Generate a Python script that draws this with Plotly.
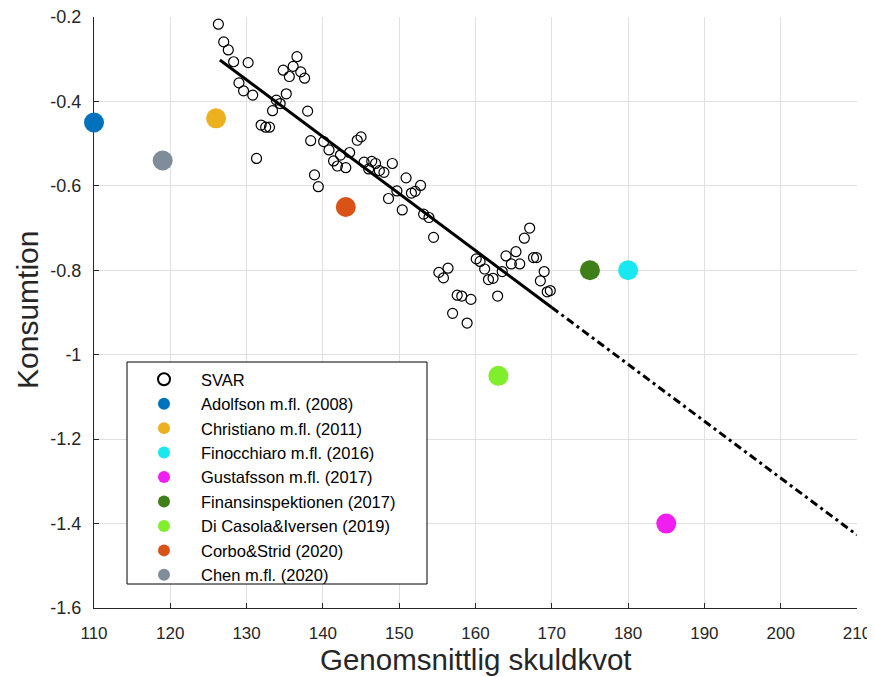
import plotly.graph_objects as go

# SVAR estimates (skuldkvot, konsumtion)
svar_x = [126.3, 127.0, 127.6, 128.3, 130.2, 129.0, 129.6, 130.8, 136.6, 134.8,
          136.1, 137.1, 135.6, 137.6, 135.2, 133.9, 134.4, 133.4, 138.0, 131.9,
          132.5, 133.0, 131.3, 138.4, 140.1, 140.8, 141.4, 141.9, 143.0, 142.3,
          143.5, 144.5, 145.0, 138.9, 139.4, 145.4, 146.4, 146.9, 146.0, 147.4,
          148.0, 149.1, 150.9, 152.8, 152.1, 151.6, 149.7, 148.6, 150.4, 153.2,
          153.9, 154.5, 155.2, 155.8, 156.4, 160.1, 160.6, 161.2, 161.7, 162.3,
          157.6, 158.2, 159.4, 157.0, 158.9, 162.9, 164.0, 165.3, 164.7, 165.8,
          167.1, 166.4, 167.6, 168.0, 169.0, 168.5, 169.4, 169.8, 163.5]
svar_y = [-0.217, -0.259, -0.278, -0.306, -0.308, -0.356, -0.375, -0.385, -0.294, -0.326,
          -0.317, -0.330, -0.341, -0.345, -0.382, -0.397, -0.405, -0.422, -0.423, -0.456,
          -0.461, -0.461, -0.535, -0.493, -0.495, -0.515, -0.541, -0.553, -0.557, -0.527,
          -0.521, -0.492, -0.484, -0.574, -0.602, -0.544, -0.542, -0.547, -0.560, -0.564,
          -0.568, -0.547, -0.581, -0.599, -0.613, -0.617, -0.612, -0.630, -0.657, -0.667,
          -0.675, -0.722, -0.805, -0.818, -0.795, -0.773, -0.779, -0.797, -0.822, -0.819,
          -0.859, -0.861, -0.869, -0.902, -0.925, -0.861, -0.766, -0.756, -0.785, -0.785,
          -0.700, -0.724, -0.770, -0.770, -0.803, -0.825, -0.851, -0.848, -0.803]

# Fitted line (solid in-sample, dash-dot extrapolation)
fit_x = [126.5, 170.0]
fit_y = [-0.302, -0.888]
ext_x = [170.0, 210.0]
ext_y = [-0.888, -1.427]

# Studies
study_names = ["Adolfson m.fl. (2008)", "Christiano m.fl. (2011)", "Finocchiaro m.fl. (2016)",
               "Gustafsson m.fl. (2017)", "Finansinspektionen (2017)", "Di Casola&Iversen (2019)",
               "Corbo&Strid (2020)", "Chen m.fl. (2020)"]
study_x = [110, 126, 180, 185, 175, 163, 143, 119]
study_y = [-0.45, -0.44, -0.80, -1.40, -0.80, -1.05, -0.65, -0.54]
study_colors = ["#0072BD", "#EDB120", "#1AE8F0", "#F01EF0", "#3F7F1A", "#80EE2A",
                "#D95319", "#7F8C99"]

x_ticks = [110, 120, 130, 140, 150, 160, 170, 180, 190, 200, 210]
y_ticks = [-1.6, -1.4, -1.2, -1.0, -0.8, -0.6, -0.4, -0.2]
y_ticktext = ["-1.6", "-1.4", "-1.2", "-1", "-0.8", "-0.6", "-0.4", "-0.2"]

x_title = "Genomsnittlig skuldkvot"
y_title = "Konsumtion"

FONT = "Liberation Sans, Arial, Helvetica, sans-serif"
TXT = "#262626"

# page body adds an 8px offset; figure is sized so the plot area lands where the reference has it
W, H = 867, 669
ML, MR, MT, MB = 86, 18, 9, 69
PW, PH = W - ML - MR, H - MT - MB


def px_x(p):  # screen px -> paper x
    return (p - 8 - ML) / PW


def px_y(p):  # screen px -> paper y
    return 1 - (p - 8 - MT) / PH


fig = go.Figure()
fig.add_trace(go.Scatter(
    x=svar_x, y=svar_y, mode="markers", name="SVAR",
    marker=dict(symbol="circle-open", size=10, color="black", line=dict(width=1.2, color="black")),
))
fig.add_trace(go.Scatter(x=fit_x, y=fit_y, mode="lines", showlegend=False,
                         line=dict(color="black", width=3)))
fig.add_trace(go.Scatter(x=ext_x, y=ext_y, mode="lines", showlegend=False,
                         line=dict(color="black", width=3, dash="8px,4px,3px,4px")))
for n, xv, yv, c in zip(study_names, study_x, study_y, study_colors):
    fig.add_trace(go.Scatter(x=[xv], y=[yv], mode="markers", name=n, cliponaxis=False,
                             marker=dict(size=20, color=c)))

# legend frame
fig.add_shape(type="rect", xref="paper", yref="paper", layer="above",
              x0=px_x(127), x1=px_x(427), y0=px_y(584), y1=px_y(362),
              fillcolor="white", line=dict(color="black", width=1))

fig.add_annotation(text=x_title, xref="paper", yref="paper", x=0.5, y=px_y(660),
                   xanchor="center", yanchor="middle", showarrow=False,
                   font=dict(size=29.5, color=TXT, family=FONT))
fig.add_annotation(text=y_title, xref="paper", yref="paper", x=px_x(27), y=px_y(310),
                   xanchor="center", yanchor="middle", showarrow=False, textangle=-90,
                   font=dict(size=30, color=TXT, family=FONT))

fig.update_layout(
    width=W, height=H,
    margin=dict(l=ML, r=MR, t=MT, b=MB),
    paper_bgcolor="white", plot_bgcolor="white",
    font=dict(family=FONT, color=TXT, size=17),
    showlegend=True,
    legend=dict(x=px_x(127), y=px_y(362), xanchor="left", yanchor="top",
                bgcolor="rgba(0,0,0,0)", borderwidth=0,
                font=dict(size=16.5, color="black", family=FONT),
                itemsizing="constant", itemwidth=64, tracegroupgap=0),
)
fig.update_xaxes(range=[110, 210], tickvals=x_ticks, showgrid=True, gridcolor="#E0E0E0",
                 gridwidth=1, zeroline=False, showline=True, linecolor=TXT, linewidth=1,
                 ticks="inside", ticklen=5, tickcolor=TXT, layer="below traces",
                 tickfont=dict(size=17, color=TXT), automargin=False, ticklabelstandoff=10,
                 ticklabeloverflow="allow")
fig.update_yaxes(range=[-1.6, -0.2], tickvals=y_ticks, ticktext=y_ticktext, showgrid=True,
                 gridcolor="#E0E0E0", gridwidth=1, zeroline=False, showline=True,
                 linecolor=TXT, linewidth=1, ticks="inside", ticklen=5, tickcolor=TXT,
                 layer="below traces", tickfont=dict(size=18, color=TXT), automargin=False,
                 ticklabelstandoff=8, ticklabeloverflow="allow")

fig.write_html("out.html")
